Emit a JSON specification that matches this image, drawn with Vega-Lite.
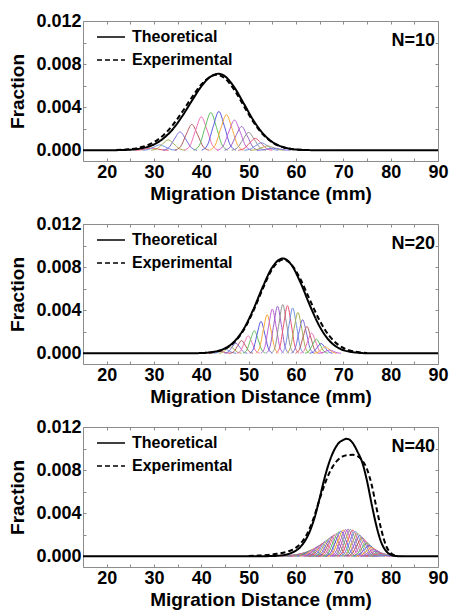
{
"$schema": "https://vega.github.io/schema/vega-lite/v6.json",
"background": "white",
"padding": {"left": 8, "top": 11, "right": 4, "bottom": 0},
"spacing": 63,
"bounds": "flush",
"resolve": {"legend": {"strokeDash": "independent"}, "scale": {"strokeDash": "independent"}},
"config": {
  "font": "Liberation Sans",
  "view": {"stroke": "#8c8c8c", "strokeWidth": 1},
  "axis": {"grid": false, "domain": false, "tickColor": "#8c8c8c", "tickSize": -3, "labelFont": "Liberation Sans", "labelFontWeight": "bold", "labelFontSize": 18, "labelColor": "black", "labelPadding": 5, "labelOverlap": false, "labelFlush": false, "titleFont": "Liberation Sans", "titleFontWeight": "bold", "titleFontSize": 19, "titleColor": "black"},
  "legend": {"orient": "top-left", "title": null, "symbolType": "stroke", "symbolSize": 784, "symbolStrokeColor": "black", "symbolStrokeWidth": 1.5, "labelFont": "Liberation Sans", "labelFontWeight": "bold", "labelFontSize": 16, "labelColor": "black", "offset": 1, "padding": 0, "rowPadding": -7, "labelOffset": 6, "symbolOffset": 12}
},
"datasets": {
"m": [
{"p":1,"s":"Theoretical","x":15,"y":0},{"p":1,"s":"Theoretical","x":20,"y":0},{"p":1,"s":"Theoretical","x":24,"y":0.00003},{"p":1,"s":"Theoretical","x":27,"y":0.00015},{"p":1,"s":"Theoretical","x":30,"y":0.00054},{"p":1,"s":"Theoretical","x":32,"y":0.0011},{"p":1,"s":"Theoretical","x":34,"y":0.00197},{"p":1,"s":"Theoretical","x":36,"y":0.00319},{"p":1,"s":"Theoretical","x":38,"y":0.00459},{"p":1,"s":"Theoretical","x":40,"y":0.00593},{"p":1,"s":"Theoretical","x":42,"y":0.00685},{"p":1,"s":"Theoretical","x":43.6,"y":0.0071},{"p":1,"s":"Theoretical","x":45,"y":0.00687},{"p":1,"s":"Theoretical","x":47,"y":0.00582},{"p":1,"s":"Theoretical","x":49,"y":0.00431},{"p":1,"s":"Theoretical","x":51,"y":0.00278},{"p":1,"s":"Theoretical","x":53,"y":0.00156},{"p":1,"s":"Theoretical","x":55,"y":0.00076},{"p":1,"s":"Theoretical","x":57,"y":0.00033},{"p":1,"s":"Theoretical","x":59,"y":0.00012},{"p":1,"s":"Theoretical","x":62,"y":0.00002},{"p":1,"s":"Theoretical","x":65,"y":0},{"p":1,"s":"Theoretical","x":90,"y":0},
{"p":1,"s":"Experimental","x":22,"y":0.00002},{"p":1,"s":"Experimental","x":24,"y":0.00006},{"p":1,"s":"Experimental","x":27,"y":0.00025},{"p":1,"s":"Experimental","x":30,"y":0.00075},{"p":1,"s":"Experimental","x":32,"y":0.0014},{"p":1,"s":"Experimental","x":34,"y":0.00236},{"p":1,"s":"Experimental","x":36,"y":0.00358},{"p":1,"s":"Experimental","x":38,"y":0.00491},{"p":1,"s":"Experimental","x":40,"y":0.0061},{"p":1,"s":"Experimental","x":42,"y":0.00685},{"p":1,"s":"Experimental","x":43.3,"y":0.007},{"p":1,"s":"Experimental","x":45,"y":0.00667},{"p":1,"s":"Experimental","x":47,"y":0.00558},{"p":1,"s":"Experimental","x":49,"y":0.00409},{"p":1,"s":"Experimental","x":51,"y":0.00263},{"p":1,"s":"Experimental","x":53,"y":0.00148},{"p":1,"s":"Experimental","x":55,"y":0.00073},{"p":1,"s":"Experimental","x":57,"y":0.00032},{"p":1,"s":"Experimental","x":59,"y":0.00012},{"p":1,"s":"Experimental","x":62,"y":0.00002},
{"p":2,"s":"Theoretical","x":15,"y":0},{"p":2,"s":"Theoretical","x":38,"y":0},{"p":2,"s":"Theoretical","x":40,"y":0.00002},{"p":2,"s":"Theoretical","x":43,"y":0.00016},{"p":2,"s":"Theoretical","x":45,"y":0.00045},{"p":2,"s":"Theoretical","x":47,"y":0.0011},{"p":2,"s":"Theoretical","x":49,"y":0.00229},{"p":2,"s":"Theoretical","x":51,"y":0.00408},{"p":2,"s":"Theoretical","x":53,"y":0.00618},{"p":2,"s":"Theoretical","x":55,"y":0.00799},{"p":2,"s":"Theoretical","x":57.2,"y":0.0088},{"p":2,"s":"Theoretical","x":59,"y":0.00823},{"p":2,"s":"Theoretical","x":61,"y":0.00651},{"p":2,"s":"Theoretical","x":63,"y":0.00437},{"p":2,"s":"Theoretical","x":65,"y":0.00248},{"p":2,"s":"Theoretical","x":67,"y":0.00119},{"p":2,"s":"Theoretical","x":69,"y":0.00048},{"p":2,"s":"Theoretical","x":71,"y":0.00017},{"p":2,"s":"Theoretical","x":73,"y":0.00005},{"p":2,"s":"Theoretical","x":75,"y":0},{"p":2,"s":"Theoretical","x":90,"y":0},
{"p":2,"s":"Experimental","x":40,"y":0.00001},{"p":2,"s":"Experimental","x":42,"y":0.00008},{"p":2,"s":"Experimental","x":45,"y":0.00042},{"p":2,"s":"Experimental","x":47,"y":0.00104},{"p":2,"s":"Experimental","x":49,"y":0.00219},{"p":2,"s":"Experimental","x":51,"y":0.00393},{"p":2,"s":"Experimental","x":53,"y":0.00601},{"p":2,"s":"Experimental","x":55,"y":0.00783},{"p":2,"s":"Experimental","x":57.3,"y":0.0087},{"p":2,"s":"Experimental","x":59,"y":0.00826},{"p":2,"s":"Experimental","x":61,"y":0.00682},{"p":2,"s":"Experimental","x":63,"y":0.00488},{"p":2,"s":"Experimental","x":65,"y":0.00303},{"p":2,"s":"Experimental","x":67,"y":0.00163},{"p":2,"s":"Experimental","x":69,"y":0.00076},{"p":2,"s":"Experimental","x":71,"y":0.00031},{"p":2,"s":"Experimental","x":73,"y":0.00011},{"p":2,"s":"Experimental","x":75,"y":0.00003},
{"p":3,"s":"Theoretical","x":15,"y":0},{"p":3,"s":"Theoretical","x":52,"y":0},{"p":3,"s":"Theoretical","x":55,"y":0.00002},{"p":3,"s":"Theoretical","x":57,"y":0.00008},{"p":3,"s":"Theoretical","x":59,"y":0.0003},{"p":3,"s":"Theoretical","x":61,"y":0.0009},{"p":3,"s":"Theoretical","x":62,"y":0.0015},{"p":3,"s":"Theoretical","x":63,"y":0.0024},{"p":3,"s":"Theoretical","x":64,"y":0.0037},{"p":3,"s":"Theoretical","x":65,"y":0.0054},{"p":3,"s":"Theoretical","x":66,"y":0.0072},{"p":3,"s":"Theoretical","x":67,"y":0.0087},{"p":3,"s":"Theoretical","x":68,"y":0.0098},{"p":3,"s":"Theoretical","x":69,"y":0.0105},{"p":3,"s":"Theoretical","x":70,"y":0.0108},{"p":3,"s":"Theoretical","x":70.6,"y":0.0109},{"p":3,"s":"Theoretical","x":71,"y":0.01088},{"p":3,"s":"Theoretical","x":72,"y":0.0105},{"p":3,"s":"Theoretical","x":73,"y":0.0097},{"p":3,"s":"Theoretical","x":74,"y":0.0087},{"p":3,"s":"Theoretical","x":75,"y":0.007},{"p":3,"s":"Theoretical","x":76,"y":0.0048},{"p":3,"s":"Theoretical","x":77,"y":0.0028},{"p":3,"s":"Theoretical","x":78,"y":0.0013},{"p":3,"s":"Theoretical","x":79,"y":0.0005},{"p":3,"s":"Theoretical","x":80,"y":0.00015},{"p":3,"s":"Theoretical","x":81,"y":0.00003},{"p":3,"s":"Theoretical","x":82,"y":0},{"p":3,"s":"Theoretical","x":90,"y":0},
{"p":3,"s":"Experimental","x":50,"y":0.00003},{"p":3,"s":"Experimental","x":52,"y":0.00006},{"p":3,"s":"Experimental","x":54,"y":0.00012},{"p":3,"s":"Experimental","x":56,"y":0.00022},{"p":3,"s":"Experimental","x":58,"y":0.0004},{"p":3,"s":"Experimental","x":60,"y":0.0008},{"p":3,"s":"Experimental","x":61,"y":0.0012},{"p":3,"s":"Experimental","x":62,"y":0.0018},{"p":3,"s":"Experimental","x":63,"y":0.0027},{"p":3,"s":"Experimental","x":64,"y":0.0039},{"p":3,"s":"Experimental","x":65,"y":0.0053},{"p":3,"s":"Experimental","x":66,"y":0.0066},{"p":3,"s":"Experimental","x":67,"y":0.0077},{"p":3,"s":"Experimental","x":68,"y":0.0085},{"p":3,"s":"Experimental","x":69,"y":0.009},{"p":3,"s":"Experimental","x":70,"y":0.0093},{"p":3,"s":"Experimental","x":71,"y":0.0094},{"p":3,"s":"Experimental","x":72,"y":0.00942},{"p":3,"s":"Experimental","x":73,"y":0.0093},{"p":3,"s":"Experimental","x":74,"y":0.0089},{"p":3,"s":"Experimental","x":75,"y":0.0081},{"p":3,"s":"Experimental","x":76,"y":0.0066},{"p":3,"s":"Experimental","x":77,"y":0.0045},{"p":3,"s":"Experimental","x":78,"y":0.0025},{"p":3,"s":"Experimental","x":79,"y":0.001},{"p":3,"s":"Experimental","x":80,"y":0.0003},{"p":3,"s":"Experimental","x":81,"y":0.00005}
],
"k": [
{"p":1,"c":1,"x":25.9,"y":0},{"p":1,"c":1,"x":27.1,"y":0.000027},{"p":1,"c":1,"x":28.3,"y":0.000121},{"p":1,"c":1,"x":29.5,"y":0.0002},{"p":1,"c":1,"x":30.7,"y":0.000121},{"p":1,"c":1,"x":31.9,"y":0.000027},{"p":1,"c":1,"x":33.1,"y":0},
{"p":1,"c":2,"x":27.6,"y":0},{"p":1,"c":2,"x":28.8,"y":0.000068},{"p":1,"c":2,"x":30.0,"y":0.000304},{"p":1,"c":2,"x":31.2,"y":0.0005},{"p":1,"c":2,"x":32.4,"y":0.000304},{"p":1,"c":2,"x":33.6,"y":0.000068},{"p":1,"c":2,"x":34.8,"y":0},
{"p":1,"c":3,"x":29.4,"y":0},{"p":1,"c":3,"x":30.6,"y":0.00013},{"p":1,"c":3,"x":31.8,"y":0.000583},{"p":1,"c":3,"x":33.0,"y":0.00096},{"p":1,"c":3,"x":34.2,"y":0.000583},{"p":1,"c":3,"x":35.4,"y":0.00013},{"p":1,"c":3,"x":36.6,"y":0},
{"p":1,"c":4,"x":31.9,"y":0},{"p":1,"c":4,"x":33.1,"y":0.00023},{"p":1,"c":4,"x":34.3,"y":0.00103},{"p":1,"c":4,"x":35.5,"y":0.0017},{"p":1,"c":4,"x":36.7,"y":0.00103},{"p":1,"c":4,"x":37.9,"y":0.00023},{"p":1,"c":4,"x":39.1,"y":0},
{"p":1,"c":5,"x":34.4,"y":0},{"p":1,"c":5,"x":35.6,"y":0.000324},{"p":1,"c":5,"x":36.8,"y":0.00146},{"p":1,"c":5,"x":38.0,"y":0.0024},{"p":1,"c":5,"x":39.2,"y":0.00146},{"p":1,"c":5,"x":40.4,"y":0.000324},{"p":1,"c":5,"x":41.6,"y":0},
{"p":1,"c":6,"x":36.4,"y":0},{"p":1,"c":6,"x":37.6,"y":0.000419},{"p":1,"c":6,"x":38.8,"y":0.00188},{"p":1,"c":6,"x":40.0,"y":0.0031},{"p":1,"c":6,"x":41.2,"y":0.00188},{"p":1,"c":6,"x":42.4,"y":0.000419},{"p":1,"c":6,"x":43.6,"y":0},
{"p":1,"c":7,"x":38.4,"y":0},{"p":1,"c":7,"x":39.6,"y":0.000473},{"p":1,"c":7,"x":40.8,"y":0.00212},{"p":1,"c":7,"x":42.0,"y":0.0035},{"p":1,"c":7,"x":43.2,"y":0.00212},{"p":1,"c":7,"x":44.4,"y":0.000473},{"p":1,"c":7,"x":45.6,"y":0},
{"p":1,"c":8,"x":40.1,"y":0},{"p":1,"c":8,"x":41.3,"y":0.000486},{"p":1,"c":8,"x":42.5,"y":0.00219},{"p":1,"c":8,"x":43.7,"y":0.0036},{"p":1,"c":8,"x":44.9,"y":0.00219},{"p":1,"c":8,"x":46.1,"y":0.000486},{"p":1,"c":8,"x":47.3,"y":0},
{"p":1,"c":9,"x":41.7,"y":0},{"p":1,"c":9,"x":42.9,"y":0.000446},{"p":1,"c":9,"x":44.1,"y":0.002},{"p":1,"c":9,"x":45.3,"y":0.0033},{"p":1,"c":9,"x":46.5,"y":0.002},{"p":1,"c":9,"x":47.7,"y":0.000446},{"p":1,"c":9,"x":48.9,"y":0},
{"p":1,"c":10,"x":43.4,"y":0},{"p":1,"c":10,"x":44.6,"y":0.000378},{"p":1,"c":10,"x":45.8,"y":0.0017},{"p":1,"c":10,"x":47.0,"y":0.0028},{"p":1,"c":10,"x":48.2,"y":0.0017},{"p":1,"c":10,"x":49.4,"y":0.000378},{"p":1,"c":10,"x":50.6,"y":0},
{"p":1,"c":11,"x":44.9,"y":0},{"p":1,"c":11,"x":46.1,"y":0.000297},{"p":1,"c":11,"x":47.3,"y":0.00134},{"p":1,"c":11,"x":48.5,"y":0.0022},{"p":1,"c":11,"x":49.7,"y":0.00134},{"p":1,"c":11,"x":50.9,"y":0.000297},{"p":1,"c":11,"x":52.1,"y":0},
{"p":1,"c":12,"x":46.4,"y":0},{"p":1,"c":12,"x":47.6,"y":0.000223},{"p":1,"c":12,"x":48.8,"y":0.001},{"p":1,"c":12,"x":50.0,"y":0.00165},{"p":1,"c":12,"x":51.2,"y":0.001},{"p":1,"c":12,"x":52.4,"y":0.000223},{"p":1,"c":12,"x":53.6,"y":0},
{"p":1,"c":13,"x":47.8,"y":0},{"p":1,"c":13,"x":49.0,"y":0.000149},{"p":1,"c":13,"x":50.2,"y":0.000668},{"p":1,"c":13,"x":51.4,"y":0.0011},{"p":1,"c":13,"x":52.6,"y":0.000668},{"p":1,"c":13,"x":53.8,"y":0.000149},{"p":1,"c":13,"x":55.0,"y":0},
{"p":1,"c":14,"x":49.1,"y":0},{"p":1,"c":14,"x":50.3,"y":0.0000945},{"p":1,"c":14,"x":51.5,"y":0.000425},{"p":1,"c":14,"x":52.7,"y":0.0007},{"p":1,"c":14,"x":53.9,"y":0.000425},{"p":1,"c":14,"x":55.1,"y":0.0000945},{"p":1,"c":14,"x":56.3,"y":0},
{"p":1,"c":15,"x":50.4,"y":0},{"p":1,"c":15,"x":51.6,"y":0.000054},{"p":1,"c":15,"x":52.8,"y":0.000243},{"p":1,"c":15,"x":54.0,"y":0.0004},{"p":1,"c":15,"x":55.2,"y":0.000243},{"p":1,"c":15,"x":56.4,"y":0.000054},{"p":1,"c":15,"x":57.6,"y":0},
{"p":1,"c":16,"x":51.7,"y":0},{"p":1,"c":16,"x":52.9,"y":0.000027},{"p":1,"c":16,"x":54.1,"y":0.000121},{"p":1,"c":16,"x":55.3,"y":0.0002},{"p":1,"c":16,"x":56.5,"y":0.000121},{"p":1,"c":16,"x":57.7,"y":0.000027},{"p":1,"c":16,"x":58.9,"y":0},
{"p":2,"c":1,"x":41.4,"y":0},{"p":2,"c":1,"x":42.2,"y":0.000027},{"p":2,"c":1,"x":43.0,"y":0.000121},{"p":2,"c":1,"x":43.8,"y":0.0002},{"p":2,"c":1,"x":44.6,"y":0.000121},{"p":2,"c":1,"x":45.4,"y":0.000027},{"p":2,"c":1,"x":46.2,"y":0},
{"p":2,"c":2,"x":42.6,"y":0},{"p":2,"c":2,"x":43.4,"y":0.000054},{"p":2,"c":2,"x":44.2,"y":0.000243},{"p":2,"c":2,"x":45.0,"y":0.0004},{"p":2,"c":2,"x":45.8,"y":0.000243},{"p":2,"c":2,"x":46.6,"y":0.000054},{"p":2,"c":2,"x":47.4,"y":0},
{"p":2,"c":3,"x":43.7,"y":0},{"p":2,"c":3,"x":44.5,"y":0.000081},{"p":2,"c":3,"x":45.3,"y":0.000364},{"p":2,"c":3,"x":46.1,"y":0.0006},{"p":2,"c":3,"x":46.9,"y":0.000364},{"p":2,"c":3,"x":47.7,"y":0.000081},{"p":2,"c":3,"x":48.5,"y":0},
{"p":2,"c":4,"x":44.9,"y":0},{"p":2,"c":4,"x":45.7,"y":0.000127},{"p":2,"c":4,"x":46.5,"y":0.000571},{"p":2,"c":4,"x":47.3,"y":0.00094},{"p":2,"c":4,"x":48.1,"y":0.000571},{"p":2,"c":4,"x":48.9,"y":0.000127},{"p":2,"c":4,"x":49.7,"y":0},
{"p":2,"c":5,"x":46.1,"y":0},{"p":2,"c":5,"x":46.9,"y":0.000159},{"p":2,"c":5,"x":47.7,"y":0.000716},{"p":2,"c":5,"x":48.5,"y":0.00118},{"p":2,"c":5,"x":49.3,"y":0.000716},{"p":2,"c":5,"x":50.1,"y":0.000159},{"p":2,"c":5,"x":50.9,"y":0},
{"p":2,"c":6,"x":47.5,"y":0},{"p":2,"c":6,"x":48.3,"y":0.000219},{"p":2,"c":6,"x":49.1,"y":0.000983},{"p":2,"c":6,"x":49.9,"y":0.00162},{"p":2,"c":6,"x":50.7,"y":0.000983},{"p":2,"c":6,"x":51.5,"y":0.000219},{"p":2,"c":6,"x":52.3,"y":0},
{"p":2,"c":7,"x":48.8,"y":0},{"p":2,"c":7,"x":49.6,"y":0.000282},{"p":2,"c":7,"x":50.4,"y":0.00127},{"p":2,"c":7,"x":51.2,"y":0.00209},{"p":2,"c":7,"x":52.0,"y":0.00127},{"p":2,"c":7,"x":52.8,"y":0.000282},{"p":2,"c":7,"x":53.6,"y":0},
{"p":2,"c":8,"x":50.2,"y":0},{"p":2,"c":8,"x":51.0,"y":0.0004},{"p":2,"c":8,"x":51.8,"y":0.0018},{"p":2,"c":8,"x":52.6,"y":0.00296},{"p":2,"c":8,"x":53.4,"y":0.0018},{"p":2,"c":8,"x":54.2,"y":0.0004},{"p":2,"c":8,"x":55.0,"y":0},
{"p":2,"c":9,"x":51.5,"y":0},{"p":2,"c":9,"x":52.3,"y":0.000483},{"p":2,"c":9,"x":53.1,"y":0.00217},{"p":2,"c":9,"x":53.9,"y":0.00358},{"p":2,"c":9,"x":54.7,"y":0.00217},{"p":2,"c":9,"x":55.5,"y":0.000483},{"p":2,"c":9,"x":56.3,"y":0},
{"p":2,"c":10,"x":52.6,"y":0},{"p":2,"c":10,"x":53.4,"y":0.000555},{"p":2,"c":10,"x":54.2,"y":0.00249},{"p":2,"c":10,"x":55.0,"y":0.00411},{"p":2,"c":10,"x":55.8,"y":0.00249},{"p":2,"c":10,"x":56.6,"y":0.000555},{"p":2,"c":10,"x":57.4,"y":0},
{"p":2,"c":11,"x":53.7,"y":0},{"p":2,"c":11,"x":54.5,"y":0.000589},{"p":2,"c":11,"x":55.3,"y":0.00265},{"p":2,"c":11,"x":56.1,"y":0.00436},{"p":2,"c":11,"x":56.9,"y":0.00265},{"p":2,"c":11,"x":57.7,"y":0.000589},{"p":2,"c":11,"x":58.5,"y":0},
{"p":2,"c":12,"x":54.8,"y":0},{"p":2,"c":12,"x":55.6,"y":0.00061},{"p":2,"c":12,"x":56.4,"y":0.00274},{"p":2,"c":12,"x":57.2,"y":0.00452},{"p":2,"c":12,"x":58.0,"y":0.00274},{"p":2,"c":12,"x":58.8,"y":0.00061},{"p":2,"c":12,"x":59.6,"y":0},
{"p":2,"c":13,"x":55.8,"y":0},{"p":2,"c":13,"x":56.6,"y":0.000597},{"p":2,"c":13,"x":57.4,"y":0.00268},{"p":2,"c":13,"x":58.2,"y":0.00442},{"p":2,"c":13,"x":59.0,"y":0.00268},{"p":2,"c":13,"x":59.8,"y":0.000597},{"p":2,"c":13,"x":60.6,"y":0},
{"p":2,"c":14,"x":56.9,"y":0},{"p":2,"c":14,"x":57.7,"y":0.000568},{"p":2,"c":14,"x":58.5,"y":0.00256},{"p":2,"c":14,"x":59.3,"y":0.00421},{"p":2,"c":14,"x":60.1,"y":0.00256},{"p":2,"c":14,"x":60.9,"y":0.000568},{"p":2,"c":14,"x":61.7,"y":0},
{"p":2,"c":15,"x":58.0,"y":0},{"p":2,"c":15,"x":58.8,"y":0.000513},{"p":2,"c":15,"x":59.6,"y":0.00231},{"p":2,"c":15,"x":60.4,"y":0.0038},{"p":2,"c":15,"x":61.2,"y":0.00231},{"p":2,"c":15,"x":62.0,"y":0.000513},{"p":2,"c":15,"x":62.8,"y":0},
{"p":2,"c":16,"x":59.0,"y":0},{"p":2,"c":16,"x":59.8,"y":0.000421},{"p":2,"c":16,"x":60.6,"y":0.00189},{"p":2,"c":16,"x":61.4,"y":0.00312},{"p":2,"c":16,"x":62.2,"y":0.00189},{"p":2,"c":16,"x":63.0,"y":0.000421},{"p":2,"c":16,"x":63.8,"y":0},
{"p":2,"c":17,"x":59.9,"y":0},{"p":2,"c":17,"x":60.7,"y":0.000336},{"p":2,"c":17,"x":61.5,"y":0.00151},{"p":2,"c":17,"x":62.3,"y":0.00249},{"p":2,"c":17,"x":63.1,"y":0.00151},{"p":2,"c":17,"x":63.9,"y":0.000336},{"p":2,"c":17,"x":64.7,"y":0},
{"p":2,"c":18,"x":60.9,"y":0},{"p":2,"c":18,"x":61.7,"y":0.000252},{"p":2,"c":18,"x":62.5,"y":0.00114},{"p":2,"c":18,"x":63.3,"y":0.00187},{"p":2,"c":18,"x":64.1,"y":0.00114},{"p":2,"c":18,"x":64.9,"y":0.000252},{"p":2,"c":18,"x":65.7,"y":0},
{"p":2,"c":19,"x":61.9,"y":0},{"p":2,"c":19,"x":62.7,"y":0.000177},{"p":2,"c":19,"x":63.5,"y":0.000795},{"p":2,"c":19,"x":64.3,"y":0.00131},{"p":2,"c":19,"x":65.1,"y":0.000795},{"p":2,"c":19,"x":65.9,"y":0.000177},{"p":2,"c":19,"x":66.7,"y":0},
{"p":2,"c":20,"x":62.9,"y":0},{"p":2,"c":20,"x":63.7,"y":0.000122},{"p":2,"c":20,"x":64.5,"y":0.000546},{"p":2,"c":20,"x":65.3,"y":0.0009},{"p":2,"c":20,"x":66.1,"y":0.000546},{"p":2,"c":20,"x":66.9,"y":0.000122},{"p":2,"c":20,"x":67.7,"y":0},
{"p":2,"c":21,"x":63.8,"y":0},{"p":2,"c":21,"x":64.6,"y":0.000081},{"p":2,"c":21,"x":65.4,"y":0.000364},{"p":2,"c":21,"x":66.2,"y":0.0006},{"p":2,"c":21,"x":67.0,"y":0.000364},{"p":2,"c":21,"x":67.8,"y":0.000081},{"p":2,"c":21,"x":68.6,"y":0},
{"p":2,"c":22,"x":64.7,"y":0},{"p":2,"c":22,"x":65.5,"y":0.000041},{"p":2,"c":22,"x":66.3,"y":0.000182},{"p":2,"c":22,"x":67.1,"y":0.0003},{"p":2,"c":22,"x":67.9,"y":0.000182},{"p":2,"c":22,"x":68.7,"y":0.000041},{"p":2,"c":22,"x":69.5,"y":0},
{"p":3,"c":1,"x":56.7,"y":0},{"p":3,"c":1,"x":57.8,"y":0.000017},{"p":3,"c":1,"x":58.9,"y":0.000078},{"p":3,"c":1,"x":60.0,"y":0.000129},{"p":3,"c":1,"x":61.1,"y":0.000078},{"p":3,"c":1,"x":62.2,"y":0.000017},{"p":3,"c":1,"x":63.3,"y":0},
{"p":3,"c":2,"x":57.2,"y":0},{"p":3,"c":2,"x":58.3,"y":0.000023},{"p":3,"c":2,"x":59.4,"y":0.000101},{"p":3,"c":2,"x":60.5,"y":0.000167},{"p":3,"c":2,"x":61.6,"y":0.000101},{"p":3,"c":2,"x":62.7,"y":0.000023},{"p":3,"c":2,"x":63.8,"y":0},
{"p":3,"c":3,"x":57.7,"y":0},{"p":3,"c":3,"x":58.8,"y":0.000029},{"p":3,"c":3,"x":59.9,"y":0.00013},{"p":3,"c":3,"x":61.0,"y":0.000214},{"p":3,"c":3,"x":62.1,"y":0.00013},{"p":3,"c":3,"x":63.2,"y":0.000029},{"p":3,"c":3,"x":64.3,"y":0},
{"p":3,"c":4,"x":58.2,"y":0},{"p":3,"c":4,"x":59.3,"y":0.000037},{"p":3,"c":4,"x":60.4,"y":0.000164},{"p":3,"c":4,"x":61.5,"y":0.00027},{"p":3,"c":4,"x":62.6,"y":0.000164},{"p":3,"c":4,"x":63.7,"y":0.000037},{"p":3,"c":4,"x":64.8,"y":0},
{"p":3,"c":5,"x":58.7,"y":0},{"p":3,"c":5,"x":59.8,"y":0.000046},{"p":3,"c":5,"x":60.9,"y":0.000205},{"p":3,"c":5,"x":62.0,"y":0.000338},{"p":3,"c":5,"x":63.1,"y":0.000205},{"p":3,"c":5,"x":64.2,"y":0.000046},{"p":3,"c":5,"x":65.3,"y":0},
{"p":3,"c":6,"x":59.2,"y":0},{"p":3,"c":6,"x":60.3,"y":0.000056},{"p":3,"c":6,"x":61.4,"y":0.000254},{"p":3,"c":6,"x":62.5,"y":0.000418},{"p":3,"c":6,"x":63.6,"y":0.000254},{"p":3,"c":6,"x":64.7,"y":0.000056},{"p":3,"c":6,"x":65.8,"y":0},
{"p":3,"c":7,"x":59.7,"y":0},{"p":3,"c":7,"x":60.8,"y":0.000069},{"p":3,"c":7,"x":61.9,"y":0.00031},{"p":3,"c":7,"x":63.0,"y":0.00051},{"p":3,"c":7,"x":64.1,"y":0.00031},{"p":3,"c":7,"x":65.2,"y":0.000069},{"p":3,"c":7,"x":66.3,"y":0},
{"p":3,"c":8,"x":60.2,"y":0},{"p":3,"c":8,"x":61.3,"y":0.000083},{"p":3,"c":8,"x":62.4,"y":0.000374},{"p":3,"c":8,"x":63.5,"y":0.000616},{"p":3,"c":8,"x":64.6,"y":0.000374},{"p":3,"c":8,"x":65.7,"y":0.000083},{"p":3,"c":8,"x":66.8,"y":0},
{"p":3,"c":9,"x":60.7,"y":0},{"p":3,"c":9,"x":61.8,"y":0.000099},{"p":3,"c":9,"x":62.9,"y":0.000446},{"p":3,"c":9,"x":64.0,"y":0.000734},{"p":3,"c":9,"x":65.1,"y":0.000446},{"p":3,"c":9,"x":66.2,"y":0.000099},{"p":3,"c":9,"x":67.3,"y":0},
{"p":3,"c":10,"x":61.2,"y":0},{"p":3,"c":10,"x":62.3,"y":0.000117},{"p":3,"c":10,"x":63.4,"y":0.000525},{"p":3,"c":10,"x":64.5,"y":0.000865},{"p":3,"c":10,"x":65.6,"y":0.000525},{"p":3,"c":10,"x":66.7,"y":0.000117},{"p":3,"c":10,"x":67.8,"y":0},
{"p":3,"c":11,"x":61.7,"y":0},{"p":3,"c":11,"x":62.8,"y":0.000136},{"p":3,"c":11,"x":63.9,"y":0.000613},{"p":3,"c":11,"x":65.0,"y":0.00101},{"p":3,"c":11,"x":66.1,"y":0.000613},{"p":3,"c":11,"x":67.2,"y":0.000136},{"p":3,"c":11,"x":68.3,"y":0},
{"p":3,"c":12,"x":62.2,"y":0},{"p":3,"c":12,"x":63.3,"y":0.000157},{"p":3,"c":12,"x":64.4,"y":0.000704},{"p":3,"c":12,"x":65.5,"y":0.00116},{"p":3,"c":12,"x":66.6,"y":0.000704},{"p":3,"c":12,"x":67.7,"y":0.000157},{"p":3,"c":12,"x":68.8,"y":0},
{"p":3,"c":13,"x":62.7,"y":0},{"p":3,"c":13,"x":63.8,"y":0.000178},{"p":3,"c":13,"x":64.9,"y":0.000801},{"p":3,"c":13,"x":66.0,"y":0.00132},{"p":3,"c":13,"x":67.1,"y":0.000801},{"p":3,"c":13,"x":68.2,"y":0.000178},{"p":3,"c":13,"x":69.3,"y":0},
{"p":3,"c":14,"x":63.2,"y":0},{"p":3,"c":14,"x":64.3,"y":0.0002},{"p":3,"c":14,"x":65.4,"y":0.000898},{"p":3,"c":14,"x":66.5,"y":0.00148},{"p":3,"c":14,"x":67.6,"y":0.000898},{"p":3,"c":14,"x":68.7,"y":0.0002},{"p":3,"c":14,"x":69.8,"y":0},
{"p":3,"c":15,"x":63.7,"y":0},{"p":3,"c":15,"x":64.8,"y":0.000223},{"p":3,"c":15,"x":65.9,"y":0.001},{"p":3,"c":15,"x":67.0,"y":0.00165},{"p":3,"c":15,"x":68.1,"y":0.001},{"p":3,"c":15,"x":69.2,"y":0.000223},{"p":3,"c":15,"x":70.3,"y":0},
{"p":3,"c":16,"x":64.2,"y":0},{"p":3,"c":16,"x":65.3,"y":0.000244},{"p":3,"c":16,"x":66.4,"y":0.0011},{"p":3,"c":16,"x":67.5,"y":0.00181},{"p":3,"c":16,"x":68.6,"y":0.0011},{"p":3,"c":16,"x":69.7,"y":0.000244},{"p":3,"c":16,"x":70.8,"y":0},
{"p":3,"c":17,"x":64.7,"y":0},{"p":3,"c":17,"x":65.8,"y":0.000265},{"p":3,"c":17,"x":66.9,"y":0.00119},{"p":3,"c":17,"x":68.0,"y":0.00196},{"p":3,"c":17,"x":69.1,"y":0.00119},{"p":3,"c":17,"x":70.2,"y":0.000265},{"p":3,"c":17,"x":71.3,"y":0},
{"p":3,"c":18,"x":65.2,"y":0},{"p":3,"c":18,"x":66.3,"y":0.000284},{"p":3,"c":18,"x":67.4,"y":0.00127},{"p":3,"c":18,"x":68.5,"y":0.0021},{"p":3,"c":18,"x":69.6,"y":0.00127},{"p":3,"c":18,"x":70.7,"y":0.000284},{"p":3,"c":18,"x":71.8,"y":0},
{"p":3,"c":19,"x":65.7,"y":0},{"p":3,"c":19,"x":66.8,"y":0.000301},{"p":3,"c":19,"x":67.9,"y":0.00135},{"p":3,"c":19,"x":69.0,"y":0.00223},{"p":3,"c":19,"x":70.1,"y":0.00135},{"p":3,"c":19,"x":71.2,"y":0.000301},{"p":3,"c":19,"x":72.3,"y":0},
{"p":3,"c":20,"x":66.2,"y":0},{"p":3,"c":20,"x":67.3,"y":0.000316},{"p":3,"c":20,"x":68.4,"y":0.00142},{"p":3,"c":20,"x":69.5,"y":0.00234},{"p":3,"c":20,"x":70.6,"y":0.00142},{"p":3,"c":20,"x":71.7,"y":0.000316},{"p":3,"c":20,"x":72.8,"y":0},
{"p":3,"c":21,"x":66.7,"y":0},{"p":3,"c":21,"x":67.8,"y":0.000327},{"p":3,"c":21,"x":68.9,"y":0.00147},{"p":3,"c":21,"x":70.0,"y":0.00242},{"p":3,"c":21,"x":71.1,"y":0.00147},{"p":3,"c":21,"x":72.2,"y":0.000327},{"p":3,"c":21,"x":73.3,"y":0},
{"p":3,"c":22,"x":67.2,"y":0},{"p":3,"c":22,"x":68.3,"y":0.000333},{"p":3,"c":22,"x":69.4,"y":0.0015},{"p":3,"c":22,"x":70.5,"y":0.00247},{"p":3,"c":22,"x":71.6,"y":0.0015},{"p":3,"c":22,"x":72.7,"y":0.000333},{"p":3,"c":22,"x":73.8,"y":0},
{"p":3,"c":23,"x":67.7,"y":0},{"p":3,"c":23,"x":68.8,"y":0.000338},{"p":3,"c":23,"x":69.9,"y":0.00152},{"p":3,"c":23,"x":71.0,"y":0.0025},{"p":3,"c":23,"x":72.1,"y":0.00152},{"p":3,"c":23,"x":73.2,"y":0.000338},{"p":3,"c":23,"x":74.3,"y":0},
{"p":3,"c":24,"x":68.2,"y":0},{"p":3,"c":24,"x":69.3,"y":0.000336},{"p":3,"c":24,"x":70.4,"y":0.00151},{"p":3,"c":24,"x":71.5,"y":0.00249},{"p":3,"c":24,"x":72.6,"y":0.00151},{"p":3,"c":24,"x":73.7,"y":0.000336},{"p":3,"c":24,"x":74.8,"y":0},
{"p":3,"c":25,"x":68.7,"y":0},{"p":3,"c":25,"x":69.8,"y":0.000327},{"p":3,"c":25,"x":70.9,"y":0.00147},{"p":3,"c":25,"x":72.0,"y":0.00242},{"p":3,"c":25,"x":73.1,"y":0.00147},{"p":3,"c":25,"x":74.2,"y":0.000327},{"p":3,"c":25,"x":75.3,"y":0},
{"p":3,"c":26,"x":69.2,"y":0},{"p":3,"c":26,"x":70.3,"y":0.000311},{"p":3,"c":26,"x":71.4,"y":0.0014},{"p":3,"c":26,"x":72.5,"y":0.0023},{"p":3,"c":26,"x":73.6,"y":0.0014},{"p":3,"c":26,"x":74.7,"y":0.000311},{"p":3,"c":26,"x":75.8,"y":0},
{"p":3,"c":27,"x":69.7,"y":0},{"p":3,"c":27,"x":70.8,"y":0.000288},{"p":3,"c":27,"x":71.9,"y":0.00129},{"p":3,"c":27,"x":73.0,"y":0.00213},{"p":3,"c":27,"x":74.1,"y":0.00129},{"p":3,"c":27,"x":75.2,"y":0.000288},{"p":3,"c":27,"x":76.3,"y":0},
{"p":3,"c":28,"x":70.2,"y":0},{"p":3,"c":28,"x":71.3,"y":0.000261},{"p":3,"c":28,"x":72.4,"y":0.00117},{"p":3,"c":28,"x":73.5,"y":0.00193},{"p":3,"c":28,"x":74.6,"y":0.00117},{"p":3,"c":28,"x":75.7,"y":0.000261},{"p":3,"c":28,"x":76.8,"y":0},
{"p":3,"c":29,"x":70.7,"y":0},{"p":3,"c":29,"x":71.8,"y":0.000231},{"p":3,"c":29,"x":72.9,"y":0.00104},{"p":3,"c":29,"x":74.0,"y":0.00171},{"p":3,"c":29,"x":75.1,"y":0.00104},{"p":3,"c":29,"x":76.2,"y":0.000231},{"p":3,"c":29,"x":77.3,"y":0},
{"p":3,"c":30,"x":71.2,"y":0},{"p":3,"c":30,"x":72.3,"y":0.000198},{"p":3,"c":30,"x":73.4,"y":0.000892},{"p":3,"c":30,"x":74.5,"y":0.00147},{"p":3,"c":30,"x":75.6,"y":0.000892},{"p":3,"c":30,"x":76.7,"y":0.000198},{"p":3,"c":30,"x":77.8,"y":0},
{"p":3,"c":31,"x":71.7,"y":0},{"p":3,"c":31,"x":72.8,"y":0.000167},{"p":3,"c":31,"x":73.9,"y":0.000753},{"p":3,"c":31,"x":75.0,"y":0.00124},{"p":3,"c":31,"x":76.1,"y":0.000753},{"p":3,"c":31,"x":77.2,"y":0.000167},{"p":3,"c":31,"x":78.3,"y":0},
{"p":3,"c":32,"x":72.2,"y":0},{"p":3,"c":32,"x":73.3,"y":0.000136},{"p":3,"c":32,"x":74.4,"y":0.000613},{"p":3,"c":32,"x":75.5,"y":0.00101},{"p":3,"c":32,"x":76.6,"y":0.000613},{"p":3,"c":32,"x":77.7,"y":0.000136},{"p":3,"c":32,"x":78.8,"y":0},
{"p":3,"c":33,"x":72.7,"y":0},{"p":3,"c":33,"x":73.8,"y":0.000109},{"p":3,"c":33,"x":74.9,"y":0.000492},{"p":3,"c":33,"x":76.0,"y":0.00081},{"p":3,"c":33,"x":77.1,"y":0.000492},{"p":3,"c":33,"x":78.2,"y":0.000109},{"p":3,"c":33,"x":79.3,"y":0},
{"p":3,"c":34,"x":73.2,"y":0},{"p":3,"c":34,"x":74.3,"y":0.000086},{"p":3,"c":34,"x":75.4,"y":0.000388},{"p":3,"c":34,"x":76.5,"y":0.00064},{"p":3,"c":34,"x":77.6,"y":0.000388},{"p":3,"c":34,"x":78.7,"y":0.000086},{"p":3,"c":34,"x":79.8,"y":0},
{"p":3,"c":35,"x":73.7,"y":0},{"p":3,"c":35,"x":74.8,"y":0.000065},{"p":3,"c":35,"x":75.9,"y":0.000291},{"p":3,"c":35,"x":77.0,"y":0.00048},{"p":3,"c":35,"x":78.1,"y":0.000291},{"p":3,"c":35,"x":79.2,"y":0.000065},{"p":3,"c":35,"x":80.3,"y":0},
{"p":3,"c":36,"x":74.2,"y":0},{"p":3,"c":36,"x":75.3,"y":0.000049},{"p":3,"c":36,"x":76.4,"y":0.000219},{"p":3,"c":36,"x":77.5,"y":0.00036},{"p":3,"c":36,"x":78.6,"y":0.000219},{"p":3,"c":36,"x":79.7,"y":0.000049},{"p":3,"c":36,"x":80.8,"y":0},
{"p":3,"c":37,"x":74.7,"y":0},{"p":3,"c":37,"x":75.8,"y":0.000035},{"p":3,"c":37,"x":76.9,"y":0.000158},{"p":3,"c":37,"x":78.0,"y":0.00026},{"p":3,"c":37,"x":79.1,"y":0.000158},{"p":3,"c":37,"x":80.2,"y":0.000035},{"p":3,"c":37,"x":81.3,"y":0},
{"p":3,"c":38,"x":75.2,"y":0},{"p":3,"c":38,"x":76.3,"y":0.000026},{"p":3,"c":38,"x":77.4,"y":0.000115},{"p":3,"c":38,"x":78.5,"y":0.00019},{"p":3,"c":38,"x":79.6,"y":0.000115},{"p":3,"c":38,"x":80.7,"y":0.000026},{"p":3,"c":38,"x":81.8,"y":0},
{"p":3,"c":39,"x":75.7,"y":0},{"p":3,"c":39,"x":76.8,"y":0.000018},{"p":3,"c":39,"x":77.9,"y":0.000079},{"p":3,"c":39,"x":79.0,"y":0.00013},{"p":3,"c":39,"x":80.1,"y":0.000079},{"p":3,"c":39,"x":81.2,"y":0.000018},{"p":3,"c":39,"x":82.3,"y":0},
{"p":3,"c":40,"x":76.2,"y":0},{"p":3,"c":40,"x":77.3,"y":0.000012},{"p":3,"c":40,"x":78.4,"y":0.000055},{"p":3,"c":40,"x":79.5,"y":0.00009},{"p":3,"c":40,"x":80.6,"y":0.000055},{"p":3,"c":40,"x":81.7,"y":0.000012},{"p":3,"c":40,"x":82.8,"y":0}
]
},
"vconcat": [
{
 "width": 355, "height": 140,
 "resolve": {"axis": {"x": "independent", "y": "independent"}},
 "layer": [
  {"data": {"name": "k"}, "transform": [{"filter": "datum.p == 1"}],
   "mark": {"type": "line", "strokeWidth": 1, "interpolate": "monotone"},
   "encoding": {
    "x": {"field": "x", "type": "quantitative", "scale": {"domain": [15, 90], "nice": false, "zero": false}, "axis": {"orient": "bottom", "values": [15,20,25,30,35,40,45,50,55,60,65,70,75,80,85,90], "labelExpr": "datum.value % 10 == 0 ? datum.label : ''", "title": "Migration Distance (mm)", "titlePadding": 3}},
    "y": {"field": "y", "type": "quantitative", "scale": {"domain": [-0.001, 0.012], "nice": false, "zero": false}, "axis": {"orient": "left", "values": [0,0.002,0.004,0.006,0.008,0.01,0.012], "format": ".3f", "labelExpr": "indexof(['0.000','0.004','0.008','0.012'], datum.label) >= 0 ? datum.label : ''", "title": "Fraction", "titlePadding": 8}},
    "color": {"field": "c", "type": "ordinal", "legend": null, "scale": {"range": ["#e8506e","#7090e0","#a8b050","#7a6ad8","#b35a5a","#f06cb4","#5cc05c","#5a5ae0","#f8a838","#c060d0","#9a60c8","#909090"]}}
   }},
  {"data": {"name": "m"}, "transform": [{"filter": "datum.p == 1"}],
   "mark": {"type": "line", "color": "black", "strokeWidth": 2, "interpolate": "monotone"},
   "encoding": {
    "x": {"field": "x", "type": "quantitative", "scale": {"domain": [15, 90], "nice": false, "zero": false}, "axis": null},
    "y": {"field": "y", "type": "quantitative", "scale": {"domain": [-0.001, 0.012], "nice": false, "zero": false}, "axis": null},
    "strokeDash": {"field": "s", "type": "nominal", "scale": {"domain": ["Theoretical", "Experimental"], "range": [[1, 0], [5, 3]]}}
   }},
  {"data": {"values": [{}]},
   "mark": {"type": "text", "text": "N=10", "align": "right", "baseline": "middle", "dx": -3, "fontSize": 18, "fontWeight": "bold", "font": "Liberation Sans", "color": "black"},
   "encoding": {
    "x": {"datum": 90, "type": "quantitative", "scale": {"domain": [15, 90], "nice": false, "zero": false}, "axis": {"orient": "top", "values": [15,20,25,30,35,40,45,50,55,60,65,70,75,80,85,90], "labels": false, "title": null}},
    "y": {"datum": 0.0101, "type": "quantitative", "scale": {"domain": [-0.001, 0.012], "nice": false, "zero": false}, "axis": {"orient": "right", "values": [0,0.002,0.004,0.006,0.008,0.01,0.012], "labels": false, "title": null}}
   }}
 ]
},
{
 "width": 355, "height": 140,
 "resolve": {"axis": {"x": "independent", "y": "independent"}},
 "layer": [
  {"data": {"name": "k"}, "transform": [{"filter": "datum.p == 2"}],
   "mark": {"type": "line", "strokeWidth": 1, "interpolate": "monotone"},
   "encoding": {
    "x": {"field": "x", "type": "quantitative", "scale": {"domain": [15, 90], "nice": false, "zero": false}, "axis": {"orient": "bottom", "values": [15,20,25,30,35,40,45,50,55,60,65,70,75,80,85,90], "labelExpr": "datum.value % 10 == 0 ? datum.label : ''", "title": "Migration Distance (mm)", "titlePadding": 3}},
    "y": {"field": "y", "type": "quantitative", "scale": {"domain": [-0.001, 0.012], "nice": false, "zero": false}, "axis": {"orient": "left", "values": [0,0.002,0.004,0.006,0.008,0.01,0.012], "format": ".3f", "labelExpr": "indexof(['0.000','0.004','0.008','0.012'], datum.label) >= 0 ? datum.label : ''", "title": "Fraction", "titlePadding": 8}},
    "color": {"field": "c", "type": "ordinal", "legend": null, "scale": {"range": ["#e8506e","#7090e0","#a8b050","#7a6ad8","#b35a5a","#f06cb4","#5cc05c","#5a5ae0","#f8a838","#c060d0","#9a60c8","#909090"]}}
   }},
  {"data": {"name": "m"}, "transform": [{"filter": "datum.p == 2"}],
   "mark": {"type": "line", "color": "black", "strokeWidth": 2, "interpolate": "monotone"},
   "encoding": {
    "x": {"field": "x", "type": "quantitative", "scale": {"domain": [15, 90], "nice": false, "zero": false}, "axis": null},
    "y": {"field": "y", "type": "quantitative", "scale": {"domain": [-0.001, 0.012], "nice": false, "zero": false}, "axis": null},
    "strokeDash": {"field": "s", "type": "nominal", "scale": {"domain": ["Theoretical", "Experimental"], "range": [[1, 0], [5, 3]]}}
   }},
  {"data": {"values": [{}]},
   "mark": {"type": "text", "text": "N=20", "align": "right", "baseline": "middle", "dx": -3, "fontSize": 18, "fontWeight": "bold", "font": "Liberation Sans", "color": "black"},
   "encoding": {
    "x": {"datum": 90, "type": "quantitative", "scale": {"domain": [15, 90], "nice": false, "zero": false}, "axis": {"orient": "top", "values": [15,20,25,30,35,40,45,50,55,60,65,70,75,80,85,90], "labels": false, "title": null}},
    "y": {"datum": 0.0101, "type": "quantitative", "scale": {"domain": [-0.001, 0.012], "nice": false, "zero": false}, "axis": {"orient": "right", "values": [0,0.002,0.004,0.006,0.008,0.01,0.012], "labels": false, "title": null}}
   }}
 ]
},
{
 "width": 355, "height": 140,
 "resolve": {"axis": {"x": "independent", "y": "independent"}},
 "layer": [
  {"data": {"name": "k"}, "transform": [{"filter": "datum.p == 3"}],
   "mark": {"type": "line", "strokeWidth": 1, "interpolate": "monotone"},
   "encoding": {
    "x": {"field": "x", "type": "quantitative", "scale": {"domain": [15, 90], "nice": false, "zero": false}, "axis": {"orient": "bottom", "values": [15,20,25,30,35,40,45,50,55,60,65,70,75,80,85,90], "labelExpr": "datum.value % 10 == 0 ? datum.label : ''", "title": "Migration Distance (mm)", "titlePadding": 3}},
    "y": {"field": "y", "type": "quantitative", "scale": {"domain": [-0.001, 0.012], "nice": false, "zero": false}, "axis": {"orient": "left", "values": [0,0.002,0.004,0.006,0.008,0.01,0.012], "format": ".3f", "labelExpr": "indexof(['0.000','0.004','0.008','0.012'], datum.label) >= 0 ? datum.label : ''", "title": "Fraction", "titlePadding": 8}},
    "color": {"field": "c", "type": "ordinal", "legend": null, "scale": {"range": ["#e8506e","#7090e0","#a8b050","#7a6ad8","#b35a5a","#f06cb4","#5cc05c","#5a5ae0","#f8a838","#c060d0","#9a60c8","#909090"]}}
   }},
  {"data": {"name": "m"}, "transform": [{"filter": "datum.p == 3"}],
   "mark": {"type": "line", "color": "black", "strokeWidth": 2, "interpolate": "monotone"},
   "encoding": {
    "x": {"field": "x", "type": "quantitative", "scale": {"domain": [15, 90], "nice": false, "zero": false}, "axis": null},
    "y": {"field": "y", "type": "quantitative", "scale": {"domain": [-0.001, 0.012], "nice": false, "zero": false}, "axis": null},
    "strokeDash": {"field": "s", "type": "nominal", "scale": {"domain": ["Theoretical", "Experimental"], "range": [[1, 0], [5, 3]]}}
   }},
  {"data": {"values": [{}]},
   "mark": {"type": "text", "text": "N=40", "align": "right", "baseline": "middle", "dx": -3, "fontSize": 18, "fontWeight": "bold", "font": "Liberation Sans", "color": "black"},
   "encoding": {
    "x": {"datum": 90, "type": "quantitative", "scale": {"domain": [15, 90], "nice": false, "zero": false}, "axis": {"orient": "top", "values": [15,20,25,30,35,40,45,50,55,60,65,70,75,80,85,90], "labels": false, "title": null}},
    "y": {"datum": 0.0101, "type": "quantitative", "scale": {"domain": [-0.001, 0.012], "nice": false, "zero": false}, "axis": {"orient": "right", "values": [0,0.002,0.004,0.006,0.008,0.01,0.012], "labels": false, "title": null}}
   }}
 ]
}
]
}
